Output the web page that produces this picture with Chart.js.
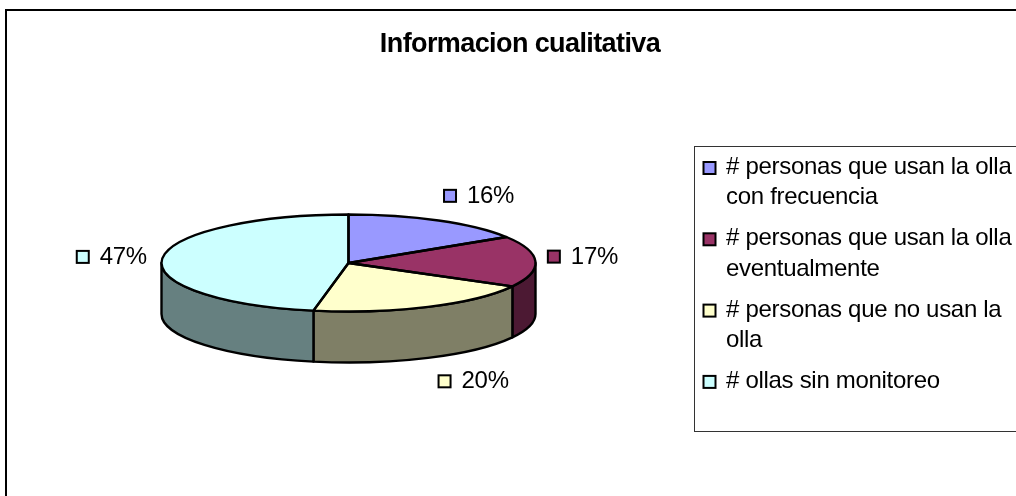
<!DOCTYPE html>
<html>
<head>
<meta charset="utf-8">
<style>
    html, body { margin: 0; padding: 0; background: #fff; }
    #wrap { position: relative; width: 1016px; height: 496px; }
</style>
<script src="https://cdn.jsdelivr.net/npm/chart.js@4"></script>
</head>
<body>
<div id="wrap"><canvas id="pieChart" width="1016" height="496"></canvas></div>
<script>
const chartTitle = 'Informacion cualitativa';
const categories = [
    '# personas que usan la olla con frecuencia',
    '# personas que usan la olla eventualmente',
    '# personas que no usan la olla',
    '# ollas sin monitoreo'
];
const shares = [16, 17, 20, 47];
const topColors = ['#9999FF', '#993366', '#FFFFCC', '#CCFFFF'];
const wallColors = ['#4C4C80', '#4C1933', '#7F7F66', '#668080'];

// flattened 3D look: the circle the library computes gets squashed to this height
const tiltRadiusY = 48.5;
const wallDepth = 51;
const outlineWidth = 2.4;
const labelGapX = 46;
const labelGapY = 27;
const labelNudge = [[-5, -1], [2, -4], [0, -1], [-4, 1]];
const legendMaxWidth = 292;

function setFont(ctx, font, spacing) {
    ctx.font = font;
    ctx.letterSpacing = spacing;
    ctx.fillStyle = '#000';
    ctx.textBaseline = 'alphabetic';
    ctx.textAlign = 'left';
}

function swatch(ctx, x, y, color) {
    ctx.fillStyle = color;
    ctx.strokeStyle = '#000';
    ctx.lineWidth = 2;
    ctx.fillRect(x, y, 12, 12);
    ctx.strokeRect(x, y, 12, 12);
}

function wrapLabel(ctx, text) {
    const lines = [];
    let line = '';
    text.split(' ').forEach(word => {
        const next = line ? line + ' ' + word : word;
        if (ctx.measureText(next).width > legendMaxWidth && line) {
            lines.push(line);
            line = word;
        } else {
            line = next;
        }
    });
    lines.push(line);
    return lines;
}

const pie3d = {
    id: 'pie3d',
    beforeDraw(chart) {
        const ctx = chart.ctx;
        ctx.save();
        ctx.fillStyle = '#fff';
        ctx.fillRect(0, 0, chart.width, chart.height);
        // chart frame
        ctx.strokeStyle = '#000';
        ctx.lineWidth = 2;
        ctx.beginPath();
        ctx.moveTo(6, chart.height + 2);
        ctx.lineTo(6, 10);
        ctx.lineTo(chart.width + 2, 10);
        ctx.stroke();
        ctx.restore();
    },
    beforeDatasetsDraw(chart) {
        const ctx = chart.ctx;
        const arcs = chart.getDatasetMeta(0).data;
        const first = arcs[0];
        const cx = first.x, cy = first.y, rx = first.outerRadius;

        // walls: only the part of each slice that faces the viewer
        ctx.save();
        ctx.strokeStyle = '#000';
        ctx.lineWidth = outlineWidth;
        ctx.lineJoin = 'round';
        arcs.forEach((arc, i) => {
            const from = Math.max(arc.startAngle, 0);
            const to = Math.min(arc.endAngle, Math.PI);
            if (to <= from) return;
            ctx.beginPath();
            ctx.ellipse(cx, cy, rx, tiltRadiusY, 0, from, to);
            ctx.ellipse(cx, cy + wallDepth, rx, tiltRadiusY, 0, to, from, true);
            ctx.closePath();
            ctx.fillStyle = wallColors[i];
            ctx.fill();
            ctx.stroke();
        });
        ctx.restore();

        ctx.save();
        ctx.translate(cx, cy);
        ctx.scale(1, tiltRadiusY / rx);
        ctx.translate(-cx, -cy);
    },
    afterDatasetsDraw(chart) {
        const ctx = chart.ctx;
        ctx.restore();

        const arcs = chart.getDatasetMeta(0).data;
        const cx = arcs[0].x, cy = arcs[0].y, rx = arcs[0].outerRadius;

        // slice outlines, stroked unscaled so the line keeps its width
        ctx.save();
        ctx.strokeStyle = '#000';
        ctx.lineWidth = outlineWidth;
        ctx.lineJoin = 'round';
        arcs.forEach(arc => {
            ctx.beginPath();
            ctx.moveTo(cx, cy);
            ctx.ellipse(cx, cy, rx, tiltRadiusY, 0, arc.startAngle, arc.endAngle);
            ctx.closePath();
            ctx.stroke();
        });
        ctx.restore();

        // value labels with legend keys
        ctx.save();
        arcs.forEach((arc, i) => {
            const mid = (arc.startAngle + arc.endAngle) / 2;
            const cos = Math.cos(mid), sin = Math.sin(mid);
            const lx = cx + cos * rx + Math.sign(cos) * labelGapX + labelNudge[i][0];
            const ly = cy + sin * tiltRadiusY + sin * labelGapY + (sin > 0.5 ? wallDepth : 0) + labelNudge[i][1];
            const text = shares[i] + '%';
            setFont(ctx, '24px "Liberation Sans"', '-0.3px');
            const w = ctx.measureText(text).width;
            const left = lx - (w + 24) / 2;
            swatch(ctx, left, ly - 6, topColors[i]);
            setFont(ctx, '24px "Liberation Sans"', '-0.3px');
            ctx.fillText(text, left + 23, ly + 7);
        });
        ctx.restore();
    },
    afterDraw(chart) {
        const ctx = chart.ctx;
        ctx.save();

        // title
        setFont(ctx, 'bold 27px "Liberation Sans"', '-0.6px');
        ctx.textAlign = 'center';
        ctx.fillText(chartTitle, 520, 52);

        // legend box, runs off the right edge like the original
        ctx.strokeStyle = '#333';
        ctx.lineWidth = 1;
        ctx.strokeRect(694.5, 146.5, chart.width, 285);

        let baseline = 174;
        categories.forEach((cat, i) => {
            swatch(ctx, 703.5, baseline - 12, topColors[i]);
            setFont(ctx, '24px "Liberation Sans"', '-0.3px');
            wrapLabel(ctx, cat).forEach((line, n) => {
                if (n > 0) baseline += 30.3;
                ctx.fillText(line, 726, baseline);
            });
            baseline += 41;
        });
        ctx.restore();
    }
};

new Chart(document.getElementById('pieChart'), {
    type: 'pie',
    data: {
        labels: categories,
        datasets: [{
            data: shares,
            backgroundColor: topColors,
            borderWidth: 0
        }]
    },
    options: {
        responsive: false,
        animation: false,
        layout: { padding: { left: 161.5, right: 480.5, top: 76, bottom: 46 } },
        plugins: {
            legend: { display: false },
            title: { display: false },
            tooltip: { enabled: false }
        }
    },
    plugins: [pie3d]
});
</script>
</body>
</html>
